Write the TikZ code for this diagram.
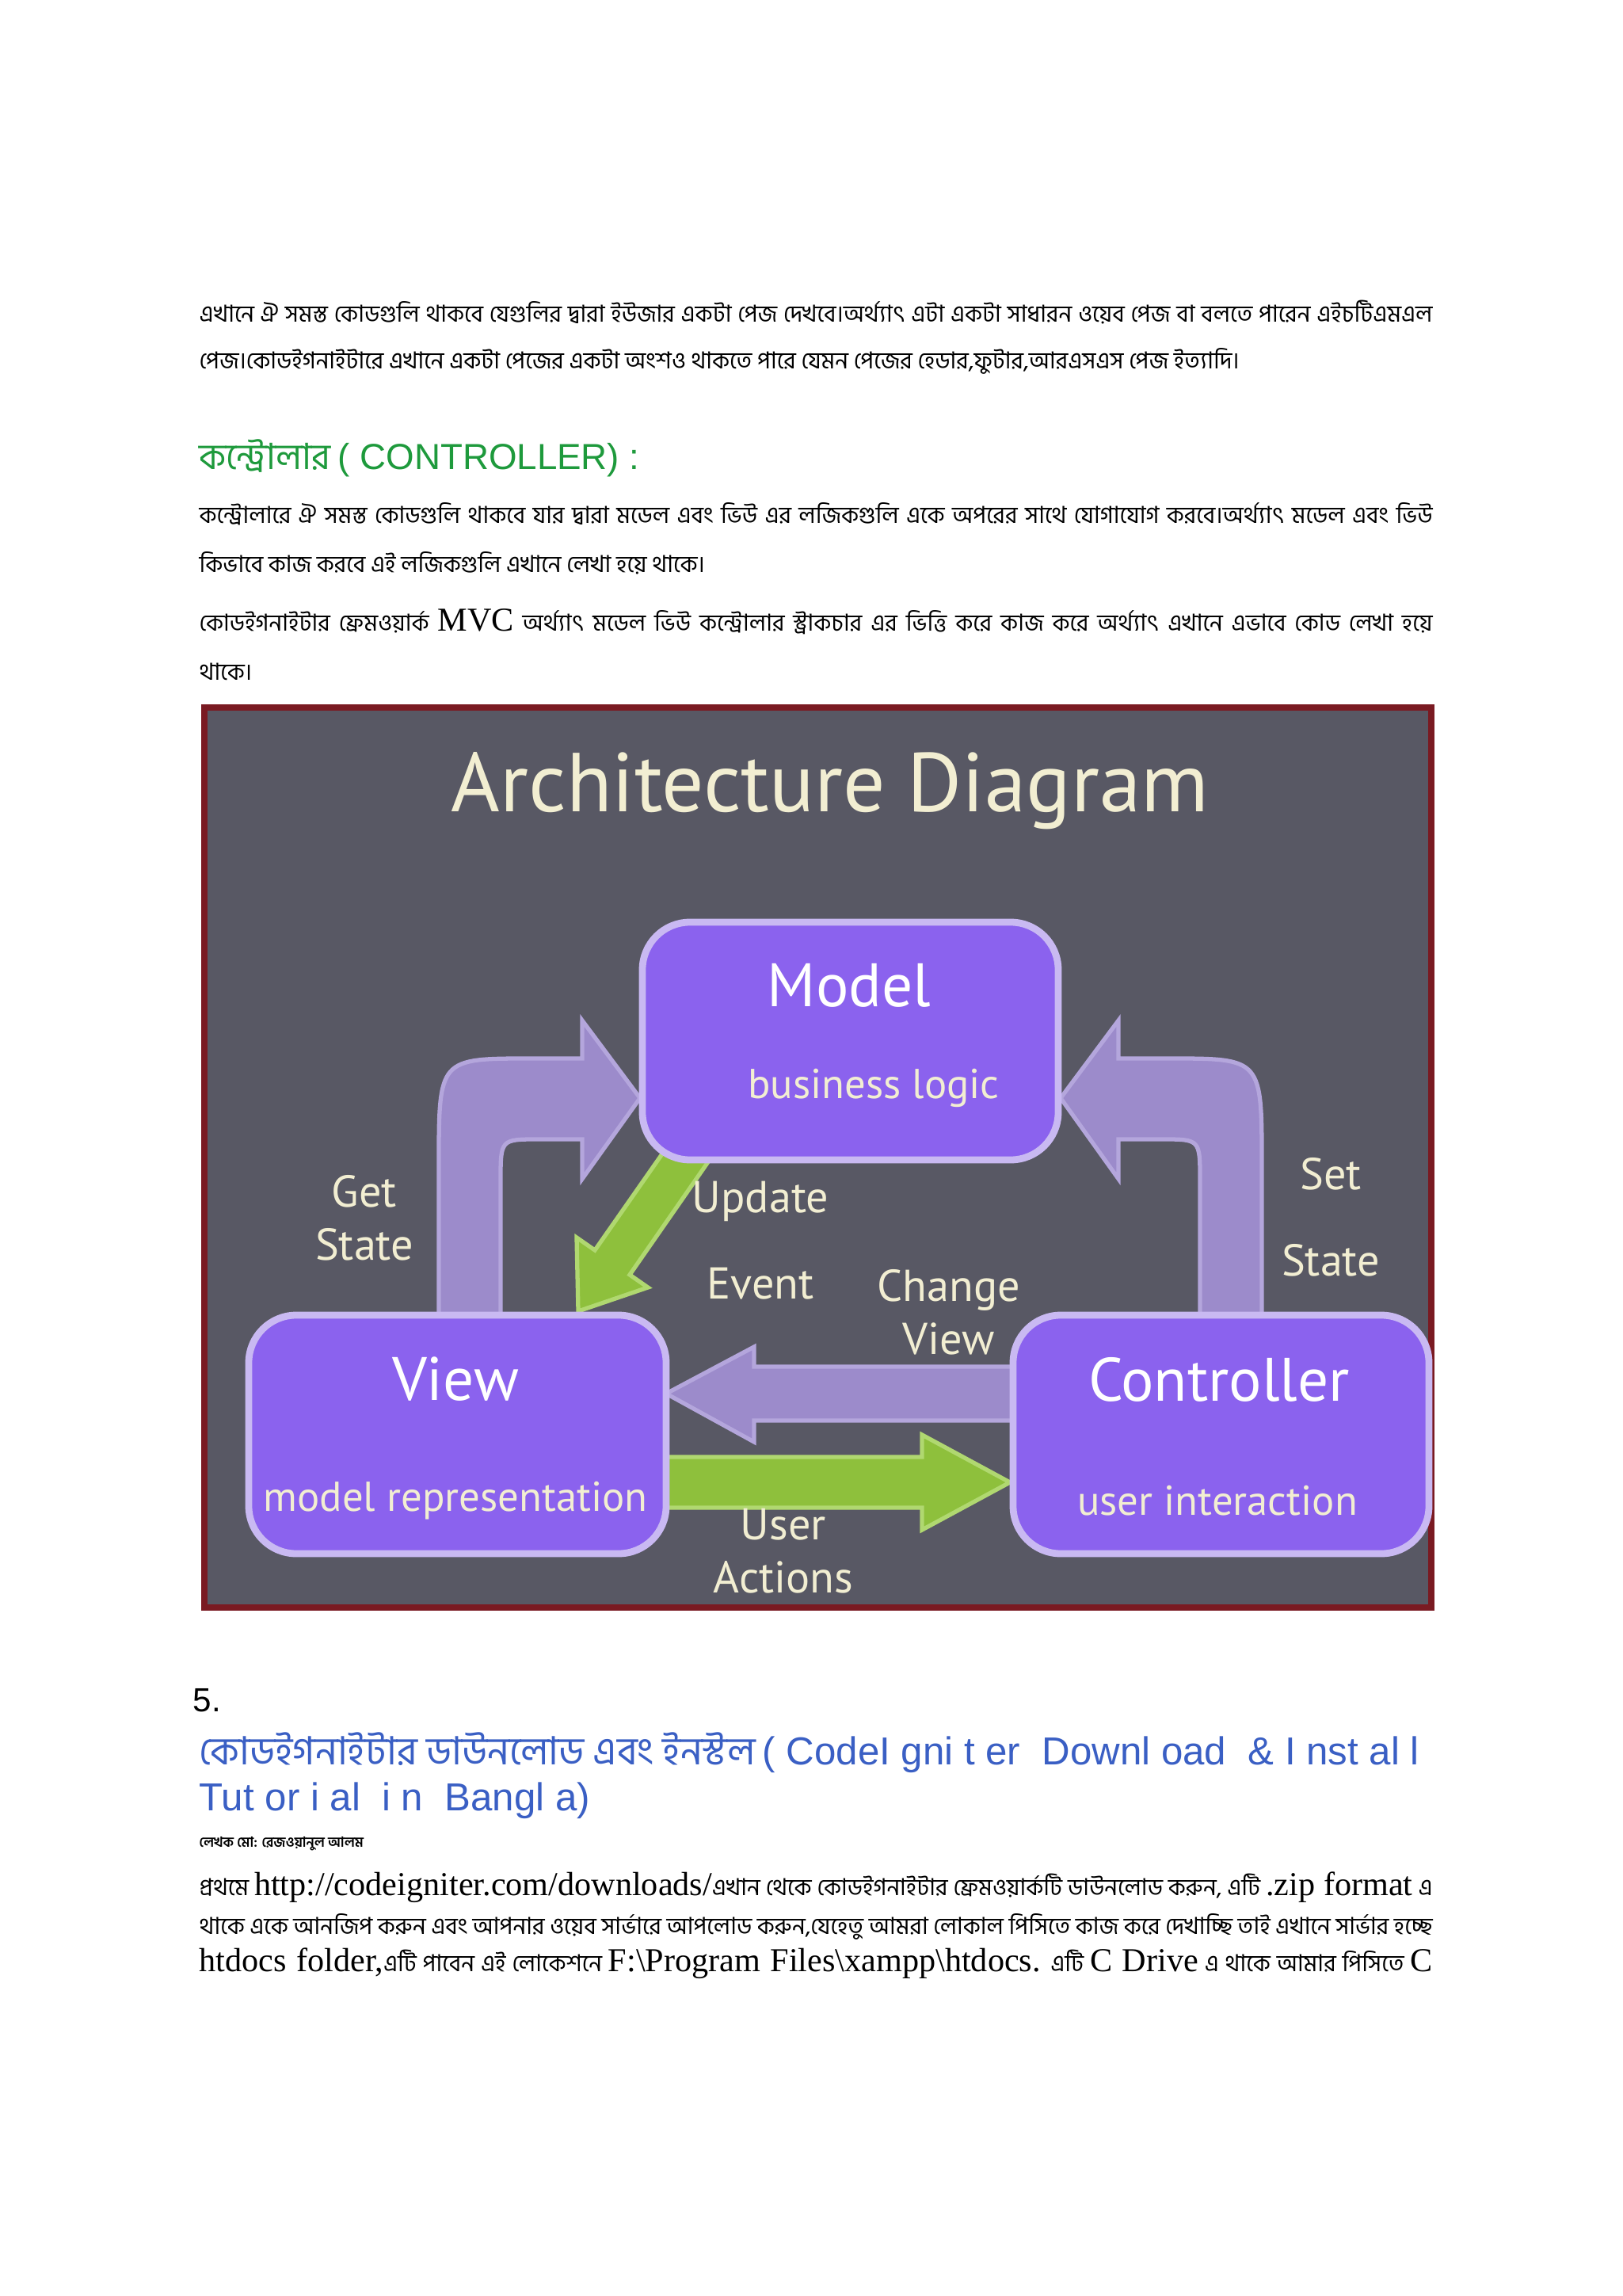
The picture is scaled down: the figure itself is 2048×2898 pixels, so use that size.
\documentclass[tikz,border=0pt]{standalone}
\usepackage{fontspec}
\setmainfont{Liberation Serif}
\newfontfamily\bn[Script=Bengali]{Hind Siliguri}
\newfontfamily\tm{Liberation Serif}
\newfontfamily\sa{Liberation Sans}
\newfontfamily\dg{PT Sans}
\definecolor{bg}{HTML}{585864}
\definecolor{frame}{HTML}{7A1A22}
\definecolor{boxf}{HTML}{8B62EE}
\definecolor{boxd}{HTML}{C9B9F2}
\definecolor{lav}{HTML}{9C8BCB}
\definecolor{lavd}{HTML}{B4A6DC}
\definecolor{grn}{HTML}{8EC03C}
\definecolor{grnd}{HTML}{B0D870}
\definecolor{cream}{HTML}{F2EED2}
\definecolor{hgreen}{HTML}{1E9A3C}
\definecolor{hblue}{HTML}{3A5FC4}
\tikzset{
  line/.style={anchor=west,inner sep=0pt},
  mbox/.style={draw=boxd,line width=2.5pt,fill=boxf,rounded corners=0.6cm},
  lavarrow/.style={fill=lav,draw=lavd,line width=1.5pt},
  grnarrow/.style={fill=grn,draw=grnd,line width=1.5pt},
  lbl/.style={font=\dg\fontsize{16}{19}\selectfont,text=cream,align=center,inner sep=0pt},
  btitle/.style={font=\dg\fontsize{22}{26}\selectfont,text=white,inner sep=0pt},
  bsub/.style={font=\dg\fontsize{15}{18}\selectfont,text=cream,inner sep=0pt},
  bn9/.style={font=\bn\fontsize{8.4}{10}\selectfont},
}
\newcommand{\jl}[1]{\makebox[15.56cm][s]{#1}}
\begin{document}
\begin{tikzpicture}[x=0.01cm,y=-0.01cm]
\useasboundingbox (0,0) rectangle (2048,2898);
\fill[white] (0,0) rectangle (2048,2898);
\node[line,bn9] (p1a) at (251,394) {\jl{এখানে ঐ সমস্ত কোডগুলি থাকবে যেগুলির দ্বারা ইউজার একটা পেজ দেখবে।অর্থ্যাৎ এটা একটা সাধারন ওয়েব পেজ বা বলতে পারেন এইচটিএমএল}};
\node[line,bn9] (p1b) at (251,456) {পেজ।কোডইগনাইটারে এখানে একটা পেজের একটা অংশও থাকতে পারে যেমন পেজের হেডার,ফুটার,আরএসএস পেজ ইত্যাদি।};
\node[line,text=hgreen] (h1) at (251,578) {{\bn\fontsize{13}{15}\selectfont কন্ট্রোলার} {\sa\fontsize{13}{15}\selectfont ( CONTROLLER) :}};
\node[line,bn9] (p2a) at (251,649) {\jl{কন্ট্রোলারে ঐ সমস্ত কোডগুলি থাকবে যার দ্বারা মডেল এবং ভিউ এর লজিকগুলি একে অপরের সাথে যোগাযোগ করবে।অর্থ্যাৎ মডেল এবং ভিউ}};
\node[line,bn9] (p2b) at (251,711) {কিভাবে কাজ করবে এই লজিকগুলি এখানে লেখা হয়ে থাকে।};
\node[line,bn9] (p3a) at (251,785) {\jl{কোডইগনাইটার ফ্রেমওয়ার্ক {\tm\fontsize{12}{14}\selectfont MVC} অর্থ্যাৎ মডেল ভিউ কন্ট্রোলার স্ট্রাকচার এর ভিত্তি করে কাজ করে অর্থ্যাৎ এখানে এভাবে কোড লেখা হয়ে}};
\node[line,bn9] (p3b) at (251,848) {থাকে।};
\filldraw[fill=bg,draw=frame,line width=2.5pt] (258,893) rectangle (1807,2029);
\node[font=\dg\fontsize{30}{36}\selectfont,text=cream,inner sep=0pt] (title) at (1048,998) {Architecture Diagram};
\path[lavarrow] (554,1660) -- (554,1470) .. controls (554,1336) .. (670,1336) -- (735,1336) -- (735,1288) -- (808,1386) -- (735,1488) -- (735,1438) -- (680,1438) .. controls (632,1438) .. (632,1490) -- (632,1660) -- cycle;
\path[lavarrow] (1593,1660) -- (1593,1470) .. controls (1593,1336) .. (1477,1336) -- (1412,1336) -- (1412,1288) -- (1339,1386) -- (1412,1488) -- (1412,1438) -- (1467,1438) .. controls (1515,1438) .. (1515,1490) -- (1515,1660) -- cycle;
\path[grnarrow] (730,1655) -- (818,1625) -- (795,1609) -- (902,1455) -- (858,1425) -- (751,1578) -- (728,1562) -- cycle;
\path[lavarrow] (841,1759) -- (952,1700) -- (952,1725) -- (1279,1725) -- (1279,1793) -- (952,1793) -- (952,1820) -- cycle;
\path[grnarrow] (1275,1871) -- (1164,1811) -- (1164,1839) -- (841,1839) -- (841,1903) -- (1164,1903) -- (1164,1931) -- cycle;
\draw[mbox] (811,1164) rectangle (1336,1464);
\node[btitle] (model) at (1072,1244) {Model};
\node[bsub] (ml) at (1103,1373) {business logic};
\draw[mbox] (314,1660) rectangle (841,1961);
\node[btitle] (view) at (575,1741) {View};
\node[bsub] (vl) at (575,1894) {model representation};
\draw[mbox] (1279,1660) rectangle (1804,1961);
\node[btitle] (ctrl) at (1539,1741) {Controller};
\node[bsub] (cl) at (1537,1894) {user interaction};
\node[lbl] (gs) at (460,1537) {Get\\[0pt]State};
\node[lbl] (ss) at (1680,1536) {Set\\[12pt]State};
\node[lbl] (ue) at (960,1566) {Update\\[12pt]Event};
\node[lbl] (cv) at (1198,1656) {Change\\View};
\node[lbl] (ua) at (989,1958) {User\\Actions};
\node[line,font=\sa\fontsize{12}{14}\selectfont] (n5) at (243,2146) {5.};
\node[line,text=hblue] (h2a) at (251,2212) {{\bn\fontsize{14}{16}\selectfont কোডইগনাইটার ডাউনলোড এবং ইনস্টল} {\sa\fontsize{14}{16}\selectfont ( CodeI gni t er\ \ Downl oad\ \ \& I nst al l}};
\node[line,text=hblue,font=\sa\fontsize{14}{16}\selectfont] (h2b) at (251,2273) {Tut or i al\ \ i n\ \ Bangl a)};
\node[line,font=\bn\bfseries\fontsize{5}{6}\selectfont] (auth) at (251,2327) {লেখক মো: রেজওয়ানুল আলম};
\node[line,bn9] (p4a) at (251,2382) {\jl{প্রথমে {\tm\fontsize{12}{14}\selectfont http://codeigniter.com/downloads/}এখান থেকে কোডইগনাইটার ফ্রেমওয়ার্কটি ডাউনলোড করুন, এটি {\tm\fontsize{12}{14}\selectfont .zip format} এ}};
\node[line,bn9] (p4b) at (251,2432) {\jl{থাকে একে আনজিপ করুন এবং আপনার ওয়েব সার্ভারে আপলোড করুন,যেহেতু আমরা লোকাল পিসিতে কাজ করে দেখাচ্ছি তাই এখানে সার্ভার হচ্ছে}};
\node[line,bn9] (p4c) at (251,2478) {\jl{{\tm\fontsize{12}{14}\selectfont htdocs folder,}এটি পাবেন এই লোকেশনে {\tm\fontsize{12}{14}\selectfont F:\textbackslash Program Files\textbackslash xampp\textbackslash htdocs.} এটি {\tm\fontsize{12}{14}\selectfont C Drive} এ থাকে আমার পিসিতে {\tm\fontsize{12}{14}\selectfont C}}};
\end{tikzpicture}
\end{document}
